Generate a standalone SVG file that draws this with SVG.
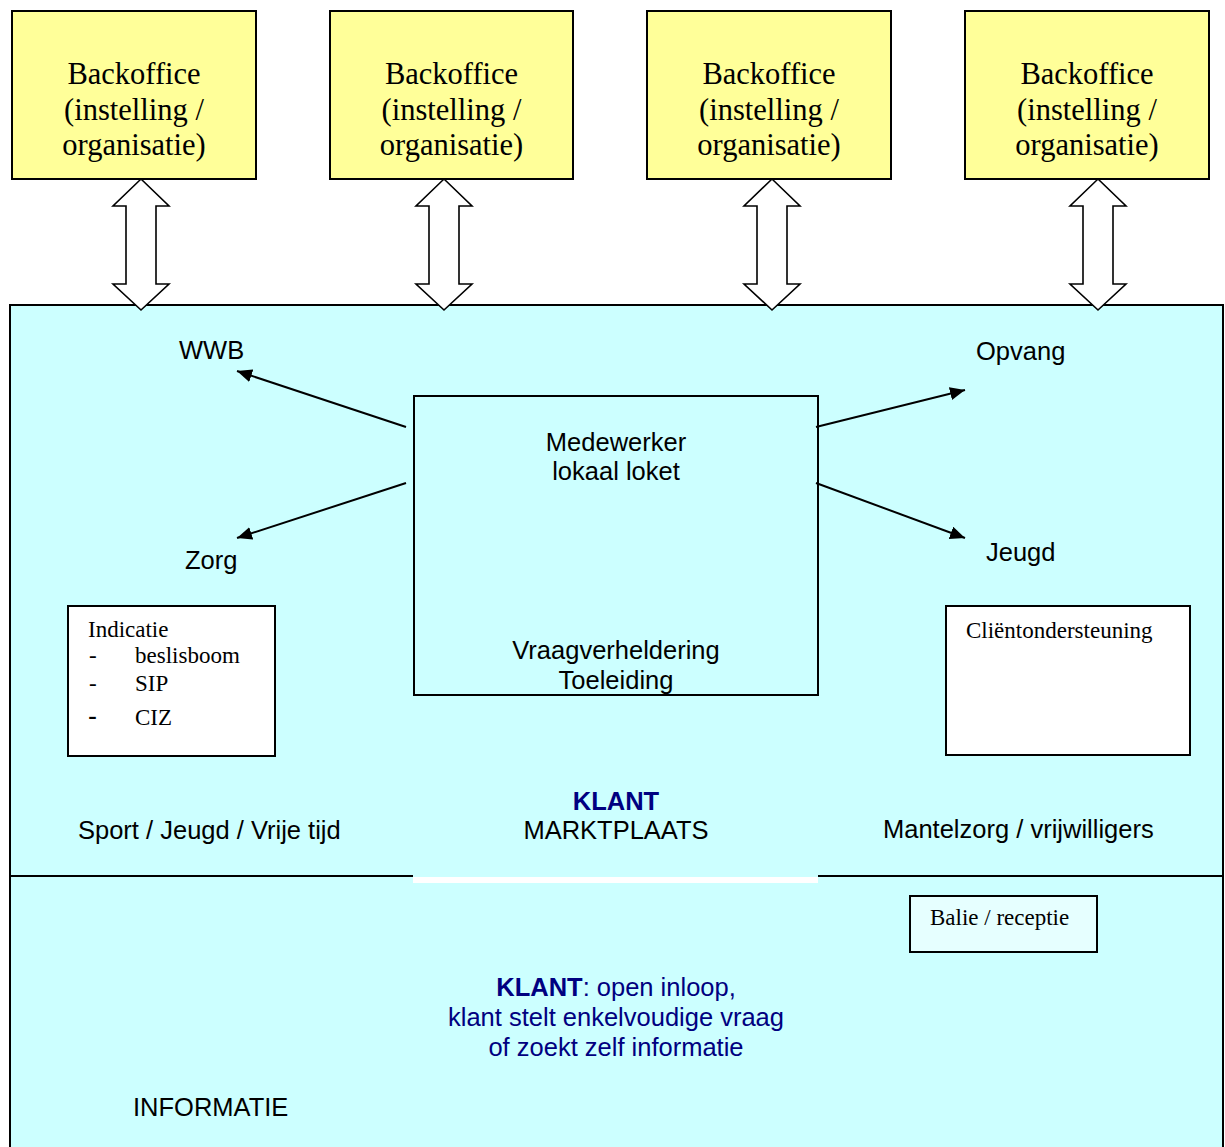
<svg xmlns="http://www.w3.org/2000/svg" width="1225" height="1147" viewBox="0 0 1225 1147">
<style>
.bo{fill:#FFFF99;stroke:#000;stroke-width:2}
.bot{font-family:"Liberation Serif","Times New Roman",serif;font-size:30.5px;fill:#000;text-anchor:middle}
.dbl{fill:#fff;stroke:#000;stroke-width:1.6;stroke-linejoin:miter}
.sans{font-family:"Liberation Sans",Arial,sans-serif;font-size:25.5px;fill:#000}
.mid{text-anchor:middle}
.serif{font-family:"Liberation Serif","Times New Roman",serif;font-size:23px;fill:#000}
.navy{fill:#000080}
.conn{stroke:#000;stroke-width:2;fill:none;marker-end:url(#ah)}
.wbox{fill:#fff;stroke:#000;stroke-width:2}
</style>
<defs>
<marker id="ah" markerUnits="userSpaceOnUse" markerWidth="16" markerHeight="14" refX="15" refY="6.5" orient="auto">
<path d="M0,0 L15,6.5 L0,13 z" fill="#000"/>
</marker>
</defs>
<rect width="1225" height="1147" fill="#fff"/>

<g id="marktplaats">
<rect x="10" y="305" width="1213" height="850" fill="#CCFFFF" stroke="#000" stroke-width="2"/>
<line x1="10" y1="876" x2="413" y2="876" stroke="#000" stroke-width="2"/>
<line x1="818" y1="876" x2="1223" y2="876" stroke="#000" stroke-width="2"/>
<rect x="413" y="877" width="405" height="6" fill="#fff"/>
<text class="sans" x="78" y="839">Sport / Jeugd / Vrije tijd</text>
<text class="sans" x="883" y="838">Mantelzorg / vrijwilligers</text>
<text class="sans mid navy" x="616" y="810" font-weight="bold">KLANT</text>
<text class="sans mid" x="616" y="839">MARKTPLAATS</text>
</g>

<g id="informatie">
<text class="sans mid navy" x="616" y="996"><tspan font-weight="bold">KLANT</tspan>: open inloop,</text>
<text class="sans mid navy" x="616" y="1026">klant stelt enkelvoudige vraag</text>
<text class="sans mid navy" x="616" y="1056">of zoekt zelf informatie</text>
<text class="sans" x="133" y="1116">INFORMATIE</text>
</g>

<g id="backoffice1">
<rect class="bo" x="12" y="11" width="244" height="168"/>
<text class="bot" x="134" y="84">Backoffice</text>
<text class="bot" x="134" y="119.5">(instelling /</text>
<text class="bot" x="134" y="155">organisatie)</text>
</g>
<g id="backoffice2">
<rect class="bo" x="330" y="11" width="243" height="168"/>
<text class="bot" x="451.5" y="84">Backoffice</text>
<text class="bot" x="451.5" y="119.5">(instelling /</text>
<text class="bot" x="451.5" y="155">organisatie)</text>
</g>
<g id="backoffice3">
<rect class="bo" x="647" y="11" width="244" height="168"/>
<text class="bot" x="769" y="84">Backoffice</text>
<text class="bot" x="769" y="119.5">(instelling /</text>
<text class="bot" x="769" y="155">organisatie)</text>
</g>
<g id="backoffice4">
<rect class="bo" x="965" y="11" width="244" height="168"/>
<text class="bot" x="1087" y="84">Backoffice</text>
<text class="bot" x="1087" y="119.5">(instelling /</text>
<text class="bot" x="1087" y="155">organisatie)</text>
</g>

<g id="medewerker">
<rect x="414" y="396" width="404" height="299" fill="none" stroke="#000" stroke-width="2"/>
<text class="sans mid" x="616" y="451">Medewerker</text>
<text class="sans mid" x="616" y="480">lokaal loket</text>
<text class="sans mid" x="616" y="659">Vraagverheldering</text>
<text class="sans mid" x="616" y="689">Toeleiding</text>
</g>

<g id="wwb"><text class="sans" x="179" y="359">WWB</text></g>
<g id="zorg"><text class="sans" x="185" y="569">Zorg</text></g>
<g id="opvang"><text class="sans" x="976" y="360">Opvang</text></g>
<g id="jeugd"><text class="sans" x="986" y="561">Jeugd</text></g>

<g id="indicatie">
<rect class="wbox" x="68" y="606" width="207" height="150"/>
<text class="serif" x="88" y="637">Indicatie</text>
<text class="serif" x="89" y="663">-</text>
<text class="serif" x="135" y="663">beslisboom</text>
<text class="serif" x="89" y="691">-</text>
<text class="serif" x="135" y="691">SIP</text>
<text x="88" y="725" font-family="Liberation Sans, Arial, sans-serif" font-size="27px">-</text>
<text class="serif" x="135" y="725">CIZ</text>
</g>

<g id="clientondersteuning">
<rect class="wbox" x="946" y="606" width="244" height="149"/>
<text class="serif" x="966" y="638">Cliëntondersteuning</text>
</g>

<g id="balie">
<rect x="910" y="896" width="187" height="56" fill="#E6FFFF" stroke="#000" stroke-width="2"/>
<text class="serif" x="930" y="925" font-size="20.7px">Balie / receptie</text>
</g>

<g id="connectors">
<polygon class="dbl" points="141,179 169,206 156,206 156,284 169,284 141,310 113,284 126,284 126,206 113,206"/>
<polygon class="dbl" points="444,179 472,206 459,206 459,284 472,284 444,310 416,284 429,284 429,206 416,206"/>
<polygon class="dbl" points="772,179 800,206 787,206 787,284 800,284 772,310 744,284 757,284 757,206 744,206"/>
<polygon class="dbl" points="1098,179 1126,206 1113,206 1113,284 1126,284 1098,310 1070,284 1083,284 1083,206 1070,206"/>
<line class="conn" x1="406" y1="427" x2="237" y2="371"/>
<line class="conn" x1="406" y1="483" x2="237" y2="538"/>
<line class="conn" x1="816" y1="427" x2="965" y2="390"/>
<line class="conn" x1="816" y1="483" x2="965" y2="538"/>
</g>
</svg>
